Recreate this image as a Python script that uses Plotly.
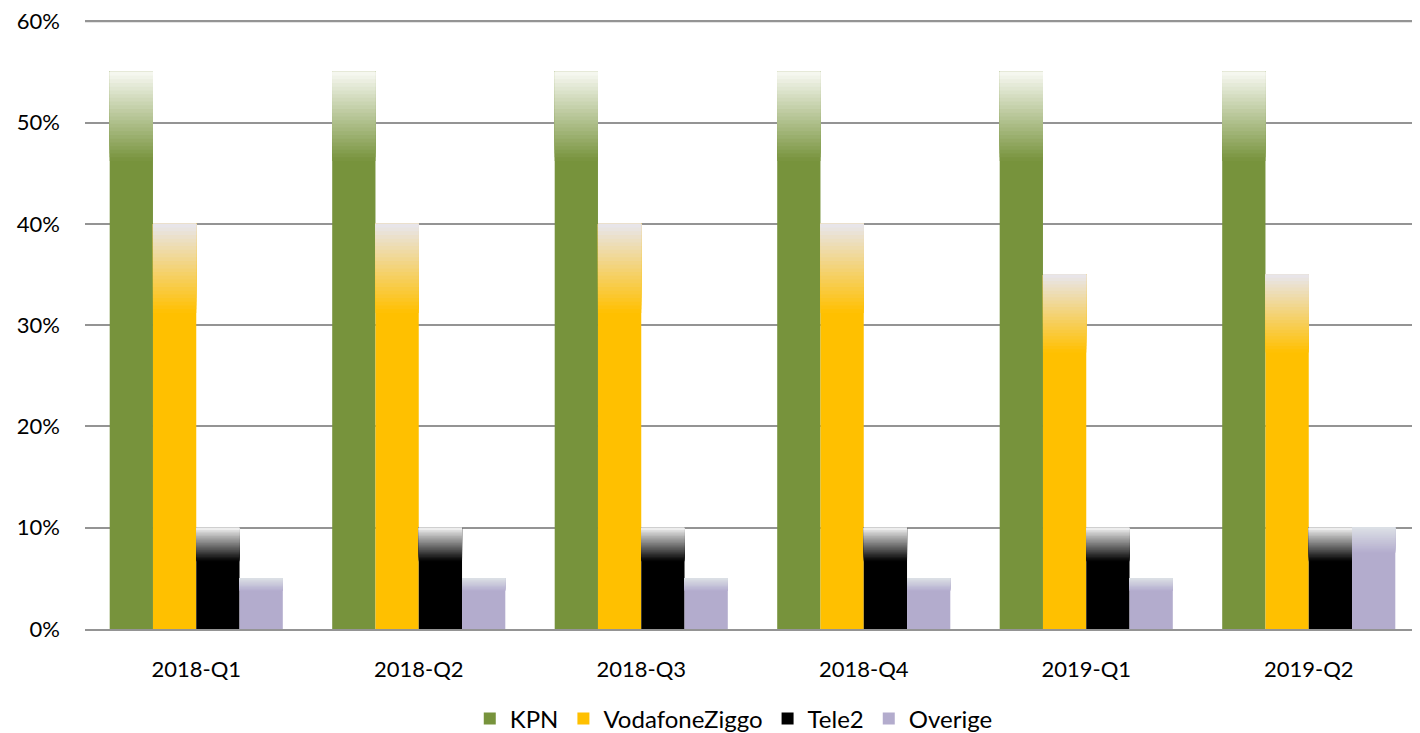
import plotly.graph_objects as go

categories = ["2018-Q1", "2018-Q2", "2018-Q3", "2018-Q4", "2019-Q1", "2019-Q2"]
kpn = [0.55, 0.55, 0.55, 0.55, 0.55, 0.55]
vodafoneziggo = [0.40, 0.40, 0.40, 0.40, 0.35, 0.35]
tele2 = [0.10, 0.10, 0.10, 0.10, 0.10, 0.10]
overige = [0.05, 0.05, 0.05, 0.05, 0.05, 0.10]
y_ticks = [0, 0.1, 0.2, 0.3, 0.4, 0.5, 0.6]

series = [
    ("KPN", kpn, "#77933C", "#F8F9F3", 0.16),
    ("VodafoneZiggo", vodafoneziggo, "#FFC000", "#E8E6EE", 0.22),
    ("Tele2", tele2, "#000000", "#F2F2F2", 0.33),
    ("Overige", overige, "#B3ACCD", "#DCE0E6", 0.25),
]

N = 24


def hex2rgb(h):
    h = h.lstrip("#")
    return tuple(int(h[i:i + 2], 16) for i in (0, 2, 4))


def mix(c1, c2, t):
    a, b = hex2rgb(c1), hex2rgb(c2)
    return "rgb(%d,%d,%d)" % tuple(round(a[k] + (b[k] - a[k]) * t) for k in range(3))


fig = go.Figure()
for name, vals, col, top, frac in series:
    fig.add_trace(go.Bar(
        x=categories, y=vals, base=[0] * len(vals), name=name,
        offsetgroup=name, marker=dict(color=col, line=dict(width=0)),
        legendgroup=name, showlegend=True, hoverinfo="skip",
    ))
    for i in range(N):
        base = [v * (1 - frac) + i * v * frac / N for v in vals]
        seg = [v - b for v, b in zip(vals, base)]
        t = (i + 0.5) / N
        fig.add_trace(go.Bar(
            x=categories, y=seg, base=base, name=name,
            offsetgroup=name, marker=dict(color=mix(col, top, t), line=dict(width=0)),
            legendgroup=name, showlegend=False, hoverinfo="skip",
        ))

fig.update_layout(
    width=1412, height=725,
    margin=dict(l=77, r=0, t=12, b=104),
    paper_bgcolor="white", plot_bgcolor="white",
    barmode="group", bargap=0.222, bargroupgap=0,
    font=dict(family="Lato, Open Sans, sans-serif", size=22, color="#000000"),
    legend=dict(orientation="h", xref="container", x=0.514, xanchor="center",
                yref="container", y=0.0193, yanchor="middle",
                font=dict(size=24), itemwidth=30, traceorder="normal"),
    showlegend=True,
)
fig.add_shape(type="line", xref="paper", x0=0, x1=1, yref="y", y0=y_ticks[-1], y1=y_ticks[-1],
              line=dict(color="#949494", width=2), layer="below")
fig.update_yaxes(range=[0, 0.6012], tickvals=y_ticks, tickformat=".0%",
                 showgrid=True, gridcolor="#949494", gridwidth=2,
                 zeroline=False, showline=False, ticklabelstandoff=24,
                 ticklabeloverflow="allow", automargin=False)
fig.update_xaxes(showline=True, linecolor="#949494", linewidth=2,
                 showgrid=False, ticklabelstandoff=20, automargin=False)

fig.write_html("out.html")
